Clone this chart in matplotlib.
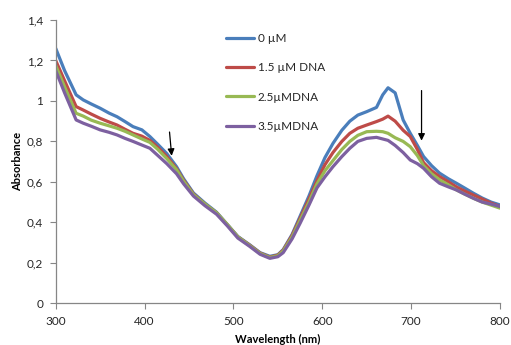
import matplotlib
matplotlib.use("Agg")
import matplotlib.pyplot as plt
from matplotlib.ticker import FuncFormatter

wavelength = [300, 310, 323, 331, 340, 350, 360, 369, 378, 387, 397, 406, 415, 425, 436, 444,
              455, 468, 481, 493, 505, 518, 530, 541, 550, 556, 566, 575, 585, 594, 603, 612,
              622, 631, 640, 650, 661, 668, 674, 682, 691, 699, 707, 714, 723, 732, 742, 751,
              760, 770, 780, 790, 800]

abs_0uM = [1.26, 1.15, 1.03, 1.005, 0.985, 0.964, 0.94, 0.922, 0.898, 0.873, 0.857, 0.824, 0.785,
           0.74, 0.675, 0.615, 0.545, 0.495, 0.45, 0.39, 0.33, 0.29, 0.25, 0.232, 0.24, 0.265,
           0.34, 0.43, 0.53, 0.63, 0.72, 0.79, 0.855, 0.90, 0.93, 0.947, 0.968, 1.03, 1.065,
           1.04, 0.906, 0.84, 0.78, 0.725, 0.68, 0.643, 0.615, 0.593, 0.57, 0.544, 0.52, 0.50, 0.486]

abs_15uM = [1.20, 1.10, 0.972, 0.955, 0.935, 0.914, 0.896, 0.881, 0.86, 0.84, 0.826, 0.805, 0.77,
            0.725, 0.665, 0.608, 0.54, 0.49, 0.447, 0.388, 0.328, 0.288, 0.248, 0.228, 0.238,
            0.262, 0.335, 0.42, 0.515, 0.605, 0.685, 0.745, 0.80, 0.84, 0.865, 0.881, 0.898, 0.91,
            0.925, 0.90, 0.855, 0.824, 0.76, 0.695, 0.655, 0.626, 0.60, 0.575, 0.555, 0.535,
            0.515, 0.495, 0.478]

abs_25uM = [1.175, 1.07, 0.939, 0.925, 0.905, 0.89, 0.877, 0.865, 0.85, 0.832, 0.812, 0.795, 0.76,
            0.715, 0.66, 0.603, 0.537, 0.49, 0.447, 0.39, 0.328, 0.286, 0.246, 0.226, 0.235,
            0.258, 0.328, 0.41, 0.50, 0.59, 0.655, 0.705, 0.76, 0.80, 0.83, 0.848, 0.85, 0.848,
            0.84, 0.818, 0.80, 0.774, 0.73, 0.68, 0.64, 0.61, 0.585, 0.56, 0.54, 0.519, 0.50,
            0.485, 0.47]

abs_35uM = [1.15, 1.04, 0.906, 0.89, 0.875, 0.857, 0.845, 0.832, 0.815, 0.80, 0.782, 0.766, 0.73,
            0.69, 0.64, 0.59, 0.53, 0.482, 0.44, 0.383, 0.322, 0.282, 0.242, 0.222, 0.23, 0.25,
            0.318, 0.395, 0.485, 0.57, 0.625, 0.675, 0.725, 0.766, 0.80, 0.815, 0.82, 0.812,
            0.805, 0.78, 0.745, 0.708, 0.69, 0.667, 0.625, 0.593, 0.575, 0.56, 0.54, 0.519,
            0.50, 0.49, 0.478]

labels = ["0 µM", "1.5 µM DNA", "2.5µMDNA", "3.5µMDNA"]
colors = ["#4A7EBB", "#BE4B48", "#98B954", "#7D60A0"]

plt.rcParams['font.family'] = ['Lato', 'DejaVu Sans']

fig = plt.figure(figsize=(5.11, 3.45), dpi=100)
ax = fig.add_axes([0.109, 0.121, 0.8695, 0.821])

for y, lab, c in zip([abs_0uM, abs_15uM, abs_25uM, abs_35uM], labels, colors):
    ax.plot(wavelength, y, color=c, lw=2.3, label=lab,
            solid_capstyle='round', solid_joinstyle='round')

ax.set_xlim(300, 800)
ax.set_ylim(0, 1.4)
ax.set_xticks([300, 400, 500, 600, 700, 800])
ax.set_yticks([0, 0.2, 0.4, 0.6, 0.8, 1.0, 1.2, 1.4])

def fmt(v, pos):
    s = ("%.1f" % v).replace(".", ",")
    if s.endswith(",0"):
        s = s[:-2]
    return s
ax.yaxis.set_major_formatter(FuncFormatter(fmt))

for side in ["top", "right"]:
    ax.spines[side].set_visible(False)
for side in ["left", "bottom"]:
    ax.spines[side].set_color("#868686")
    ax.spines[side].set_linewidth(0.9)
ax.tick_params(axis='both', direction='out', length=4, color="#868686",
               labelsize=8.5, labelcolor="#262626", pad=5)

ax.set_xlabel("Wavelength (nm)", fontsize=8, fontweight='bold', labelpad=5)
ax.set_ylabel("Absorbance", fontsize=8, fontweight='bold', labelpad=3)

ax.annotate("", xy=(430.8, 0.715), xytext=(427.8, 0.86),
            arrowprops=dict(arrowstyle="-|>", color="black", lw=0.9, mutation_scale=10))
ax.annotate("", xy=(711.7, 0.79), xytext=(711.7, 1.065),
            arrowprops=dict(arrowstyle="-|>", color="black", lw=0.9, mutation_scale=10))

leg = ax.legend(loc="upper left", bbox_to_anchor=(226/511, 1 - 33/345),
                bbox_transform=fig.transFigure, frameon=False, fontsize=8.5,
                handlelength=2.4, handletextpad=0.3, labelspacing=1.55,
                borderpad=0, borderaxespad=0)
for t in leg.get_texts():
    t.set_color("#262626")

fig.savefig("out.png", dpi=100)
